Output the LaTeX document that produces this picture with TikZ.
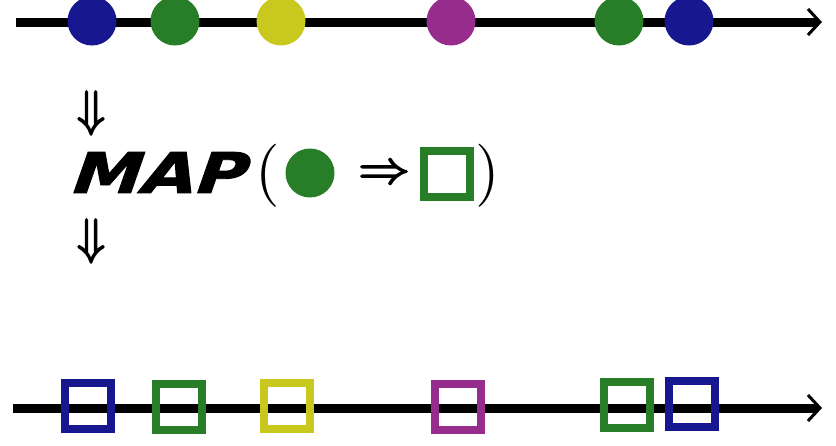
\documentclass[tikz,border=0pt]{standalone}
\usepackage{fontspec}
\newfontfamily\mapfont[FakeSlant=0.28,FakeBold=1.5]{DejaVu Sans Bold}
\newfontfamily\arrowfont[FakeBold=3]{latinmodern-math.otf}
\usetikzlibrary{arrows.meta}
\definecolor{cblue}{HTML}{17178F}
\definecolor{cgreen}{HTML}{287D28}
\definecolor{cyellow}{HTML}{C8C81E}
\definecolor{cmag}{HTML}{962D8C}
\begin{document}
\begin{tikzpicture}[x=1pt,y=-1pt,
  dot/.style={circle,fill=#1,inner sep=0pt,minimum size=49pt},
  sq/.style={draw=#1,line width=8pt,inner sep=0pt,minimum size=46pt},
  timeline/.style={line width=9pt,-{Straight Barb[line width=3pt,length=12pt,width=26pt]}},
  sym/.style={inner sep=0pt,outer sep=0pt}]
\clip (0,0) rectangle (836,445);
% top timeline
\coordinate (t0) at (16,22);
\coordinate (t1) at (822,22);
\draw[timeline] (t0) -- (t1);
\node[dot=cblue]   (c1) at (92,21) {};
\node[dot=cgreen]  (c2) at (175,21) {};
\node[dot=cyellow] (c3) at (281,21) {};
\node[dot=cmag]    (c4) at (451,21) {};
\node[dot=cgreen]  (c5) at (619,21) {};
\node[dot=cblue]   (c6) at (689,21) {};
% middle
\node[sym] (d1) at (91,113) {\resizebox{29pt}{35pt}{\arrowfont ⇓}};
\node[sym] (map) at (155,172.5) {\makebox[170pt]{\scalebox{1.25}[1]{\fontsize{56}{56}\selectfont\mapfont MAP}}};
\node[sym] (lp) at (267.5,176) {\makebox[13pt]{\scalebox{6.3}{(}}};
\node[dot=cgreen] (mc) at (310,173) {};
\node[sym] (ra) at (384,171.5) {\resizebox{52pt}{25pt}{\arrowfont ⇒}};
\node[sq=cgreen] (ms) at (446.5,174) {};
\node[sym] (rp) at (487.5,176) {\makebox[13pt]{\scalebox{6.3}{)}}};
\node[sym] (d2) at (91,241) {\resizebox{29pt}{35pt}{\arrowfont ⇓}};
% bottom timeline
\coordinate (b0) at (13,408);
\coordinate (b1) at (822,408);
\draw[timeline] (b0) -- (b1);
\node[sq=cblue]   (s1) at (88,405.5) {};
\node[sq=cgreen]  (s2) at (179,407) {};
\node[sq=cyellow] (s3) at (287,405.5) {};
\node[sq=cmag]    (s4) at (458,407) {};
\node[sq=cgreen]  (s5) at (627,404.5) {};
\node[sq=cblue]   (s6) at (692,403.5) {};
\end{tikzpicture}
\end{document}
